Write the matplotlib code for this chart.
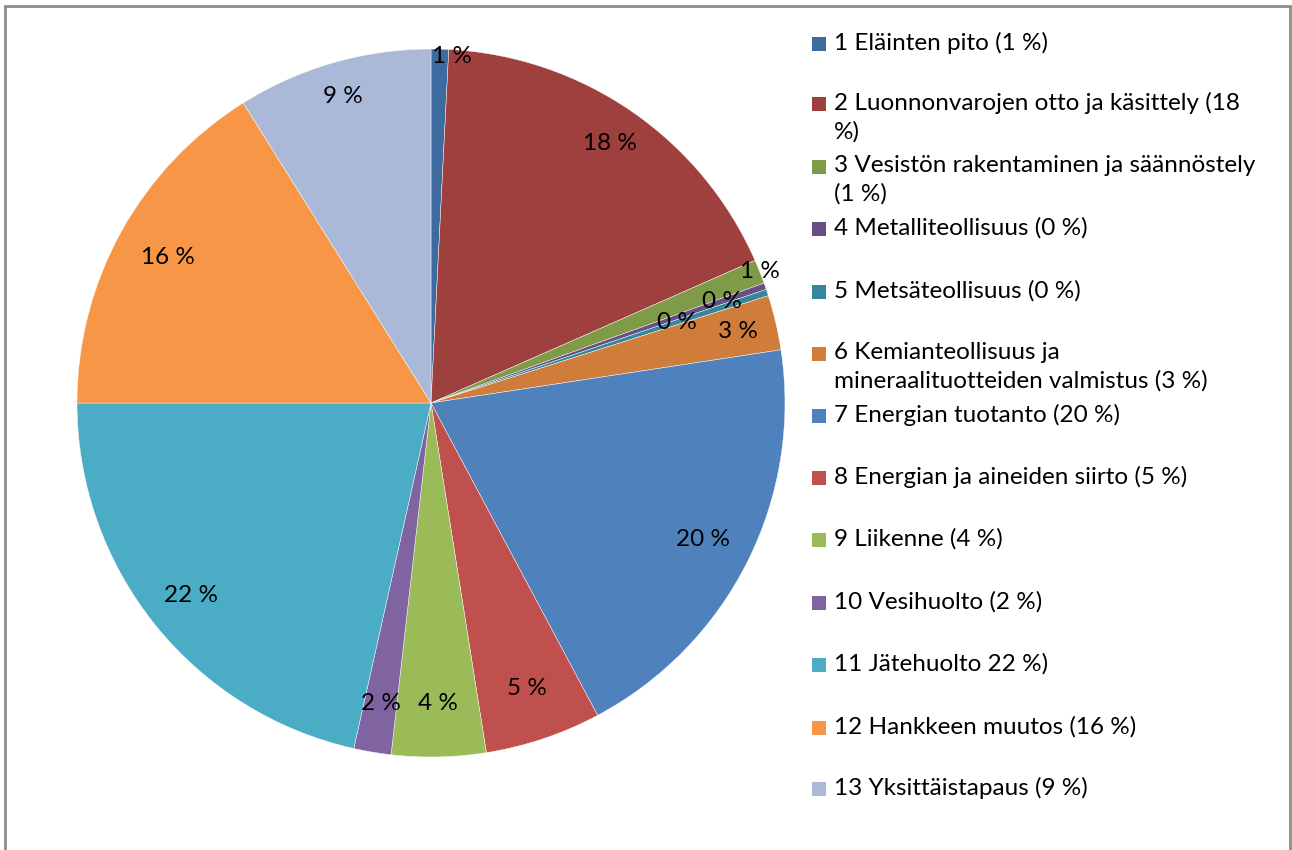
import numpy as np
import matplotlib.pyplot as plt
from matplotlib.patches import Rectangle

plt.rcParams['font.family'] = ['Lato', 'DejaVu Sans']

# share of cases by category (percent)
values = [0.8, 17.6, 1.1, 0.3, 0.3, 2.5, 19.6, 5.3, 4.3, 1.7, 21.5, 16.1, 8.9]
pct_labels = ['1 %', '18 %', '1 %', '0 %', '0 %', '3 %', '20 %', '5 %', '4 %',
              '2 %', '22 %', '16 %', '9 %']
legend_labels = [
    '1 Eläinten pito (1 %)',
    '2 Luonnonvarojen otto ja käsittely (18\n%)',
    '3 Vesistön rakentaminen ja säännöstely\n(1 %)',
    '4 Metalliteollisuus (0 %)',
    '5 Metsäteollisuus (0 %)',
    '6 Kemianteollisuus ja\nmineraalituotteiden valmistus (3 %)',
    '7 Energian tuotanto (20 %)',
    '8 Energian ja aineiden siirto (5 %)',
    '9 Liikenne (4 %)',
    '10 Vesihuolto (2 %)',
    '11 Jätehuolto 22 %)',
    '12 Hankkeen muutos (16 %)',
    '13 Yksittäistapaus (9 %)',
]
colors = ['#3D6BA0', '#9E403D', '#7F9B48', '#674F86', '#35879E', '#D07C3A',
          '#4F81BD', '#C0504D', '#9BBB59', '#8064A2', '#4BACC6', '#F79646',
          '#A9B9D7']

# label distance (fraction of radius) and small angle nudges, like Excel's best fit
label_r = [0.98, 0.89, 1.0, 0.87, 0.73, 0.89, 0.86, 0.85, 0.85, 0.86, 0.87, 0.85, 0.9]
label_dang = [2.0, 0, 0, 0, 0, 0, 0, 0, 0, 0, 0, 0, 0]

FS = 17.5
W, H = 1292, 850
fig = plt.figure(figsize=(W / 100, H / 100), dpi=100)

# outer chart border
fig.patches.append(Rectangle((5 / W, -0.05), (1290 - 5) / W, (850 - 6) / H + 0.05,
                             transform=fig.transFigure, fill=False,
                             edgecolor='#8c8c8c', linewidth=2))

cx, cy, R = 431, 403, 354
ax = fig.add_axes([(cx - R) / W, (H - cy - R) / H, 2 * R / W, 2 * R / H])
wedges, _ = ax.pie(values, colors=colors, startangle=90, counterclock=False,
                   wedgeprops=dict(edgecolor='white', linewidth=0.3))
ax.set_xlim(-1, 1)
ax.set_ylim(-1, 1)
ax.set_aspect('equal')

for w, lab, r, da in zip(wedges, pct_labels, label_r, label_dang):
    ang = np.deg2rad((w.theta1 + w.theta2) / 2 - da)
    ax.text(r * np.cos(ang), r * np.sin(ang), lab, ha='center', va='center',
            fontsize=FS, color='black')

# legend drawn by hand so wrapped entries keep Excel's even spacing
ys = [44, 104, 167, 229, 292, 354, 416, 478, 540, 603, 665, 728, 789]
for y, lab, c in zip(ys, legend_labels, colors):
    fig.patches.append(Rectangle((812 / W, (H - y - 7) / H), 14 / W, 14 / H,
                                 transform=fig.transFigure, facecolor=c,
                                 edgecolor='none'))
    fig.text(834 / W, (H - y + 12) / H, lab, ha='left', va='top', fontsize=FS,
             linespacing=1.38)

fig.savefig('out.png', dpi=100)
